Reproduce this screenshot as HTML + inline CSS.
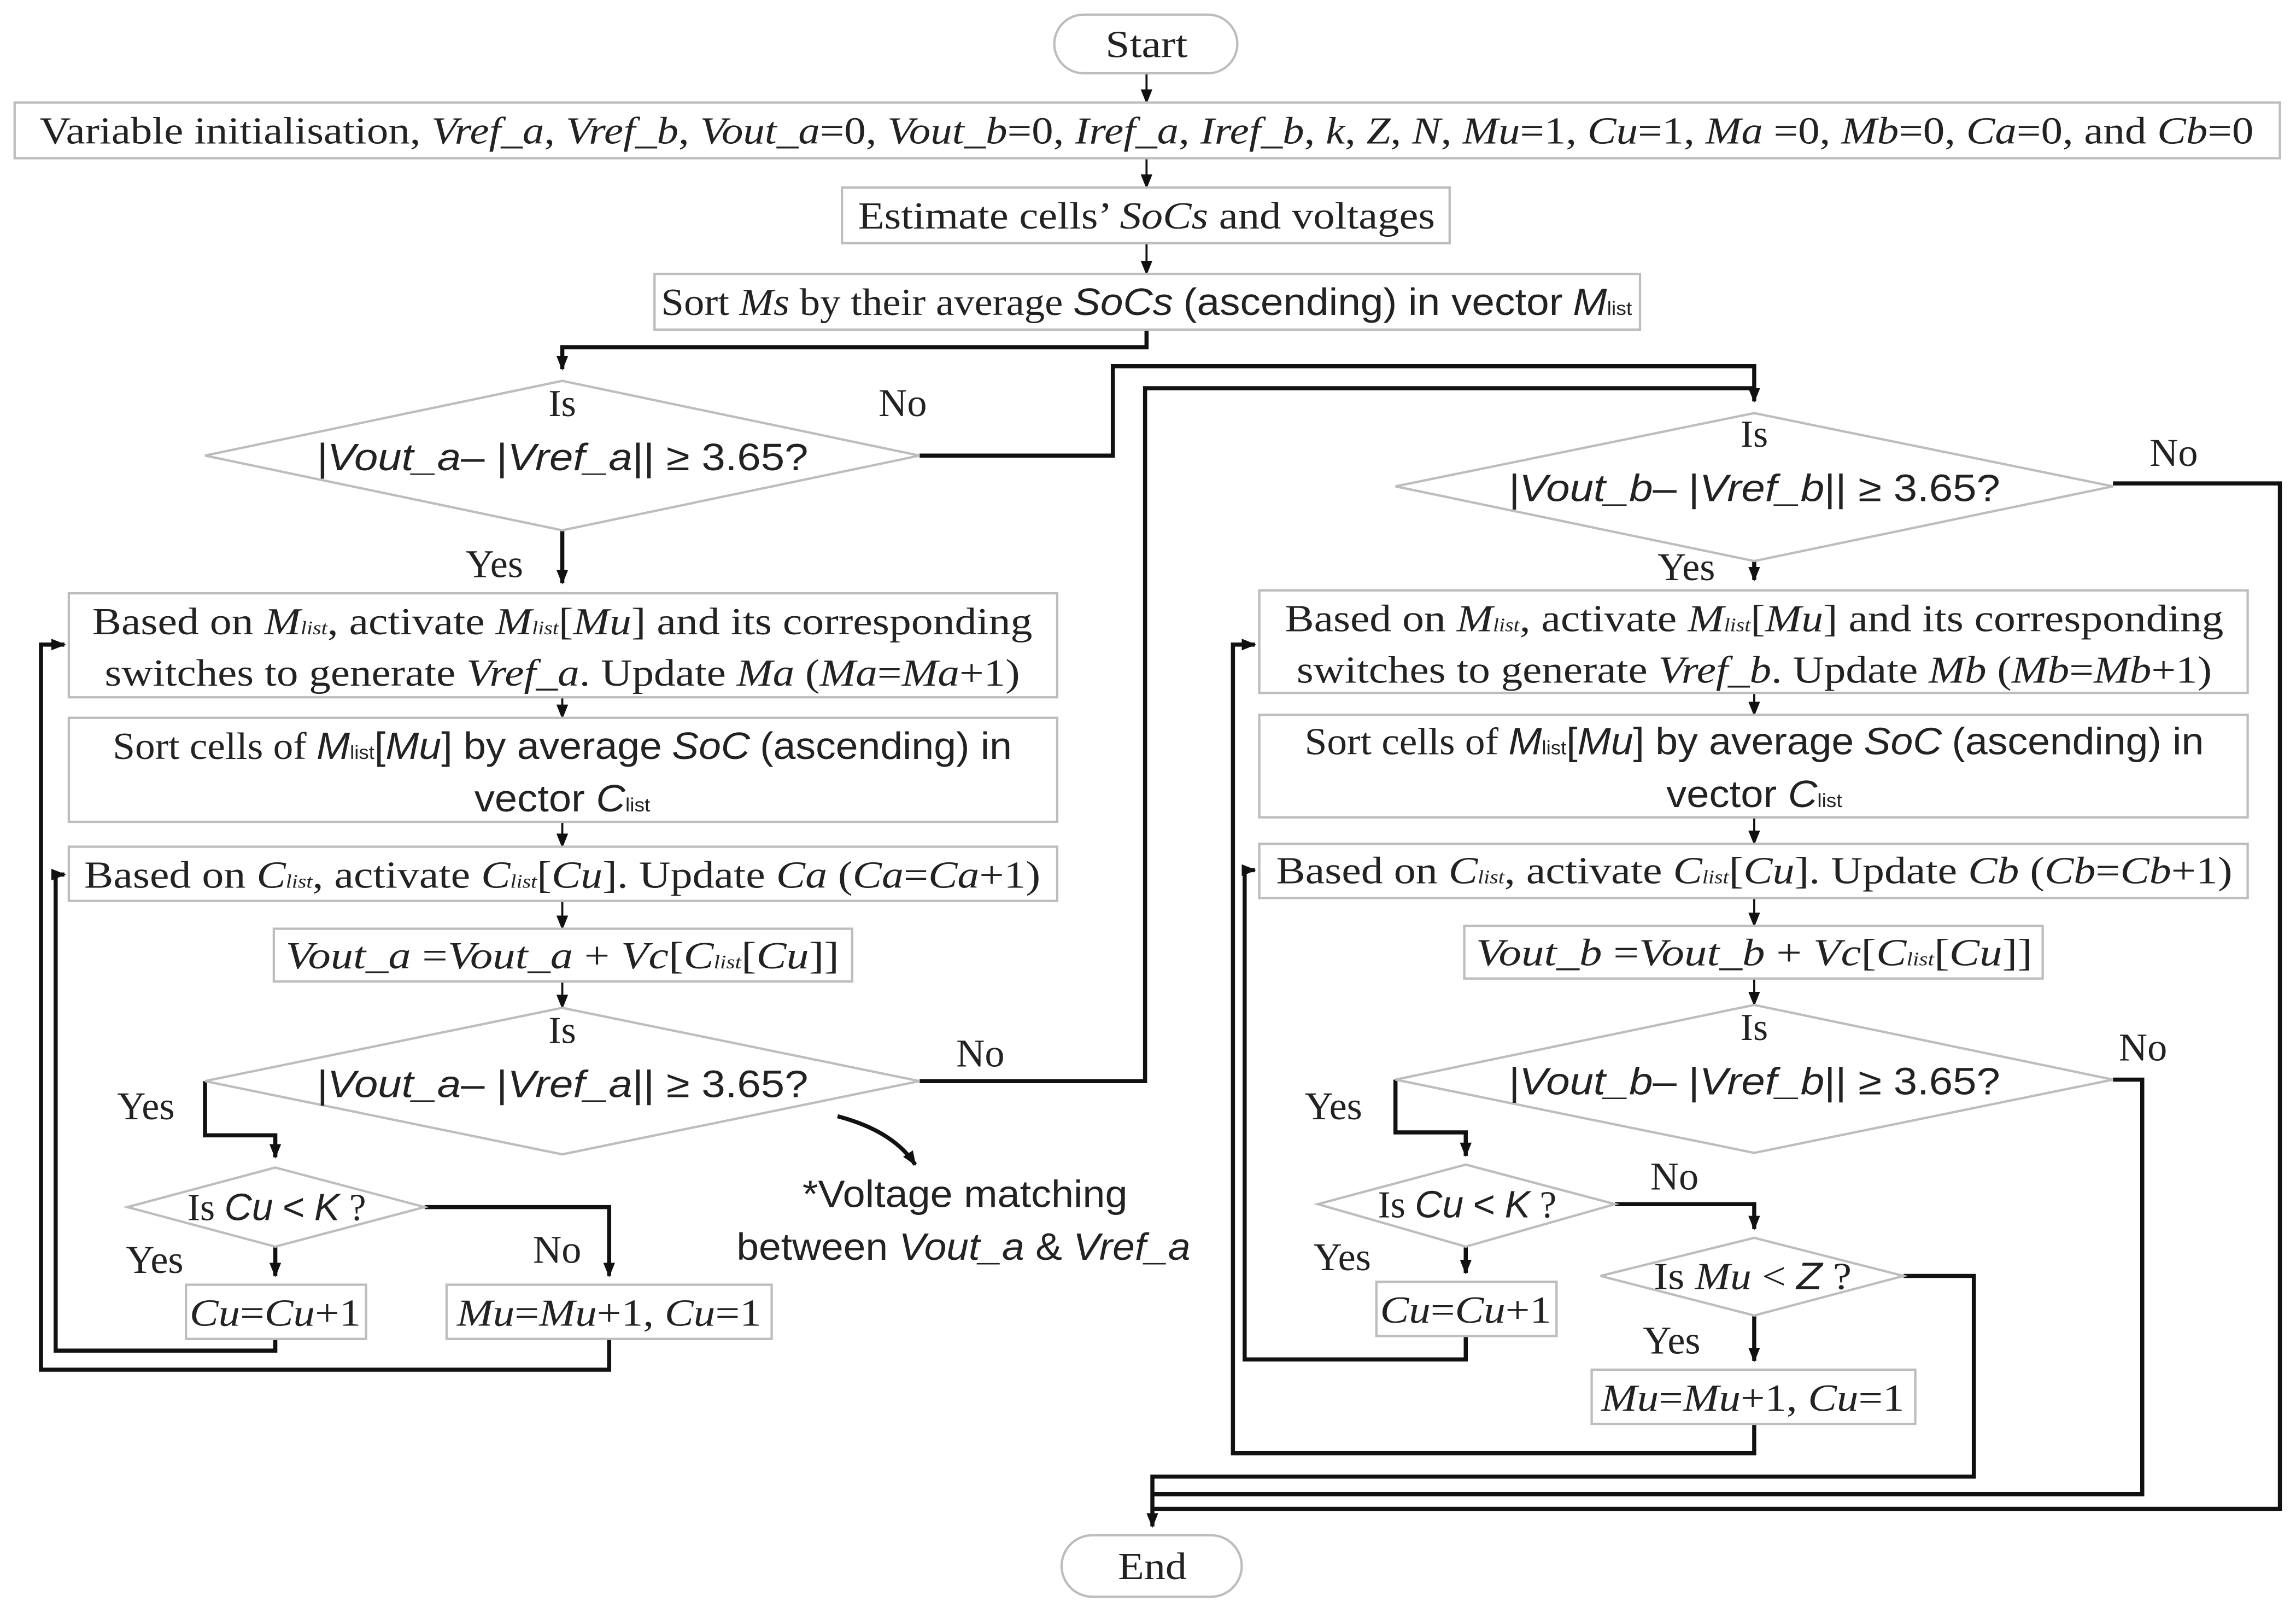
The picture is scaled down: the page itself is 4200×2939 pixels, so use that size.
<!DOCTYPE html>
<html><head><meta charset="utf-8"><style>
html,body{margin:0;padding:0;background:#fff}
svg{display:block}
text{font-family:"Liberation Serif",serif;font-size:26px;fill:#222}
.s{font-family:"Liberation Sans",sans-serif}
.i{font-style:italic}
.sub{font-size:13px}
.b{fill:#fff;stroke:#bdbdbd;stroke-width:1.6}
.c{fill:none;stroke:#111;stroke-width:2.8}
.t{fill:none;stroke:#111;stroke-width:1.4}
</style></head><body>
<svg width="4200" height="2939" viewBox="0 0 1568 1097" preserveAspectRatio="none" xmlns="http://www.w3.org/2000/svg">
<defs>
<marker id="ad" viewBox="0 0 10 10" markerWidth="10" markerHeight="10" refX="9" refY="5" orient="auto" markerUnits="userSpaceOnUse"><path d="M0,1 L10,5 L0,9 z" fill="#111"/></marker>
</defs>

<g class="t" marker-end="url(#ad)">
<line x1="783" y1="50" x2="783" y2="70"/>
<line x1="783" y1="108" x2="783" y2="128"/>
<line x1="783" y1="166" x2="783" y2="187"/>
<line x1="384" y1="476" x2="384" y2="490"/>
<line x1="384" y1="561" x2="384" y2="578"/>
<line x1="384" y1="615" x2="384" y2="634"/>
<line x1="384" y1="670" x2="384" y2="688"/>
<line x1="1198" y1="473" x2="1198" y2="488"/>
<line x1="1198" y1="558" x2="1198" y2="576"/>
<line x1="1198" y1="613" x2="1198" y2="632"/>
<line x1="1198" y1="668" x2="1198" y2="686"/>
</g>

<g class="c">
<polyline points="783,225 783,237 384,237 384,252" marker-end="url(#ad)"/>
<polyline points="628,311 760,311 760,250 1198,250 1198,274" marker-end="url(#ad)"/>
<polyline points="628,738 782,738 782,265 1198,265"/>
<polyline points="1443,330 1557,330 1557,1030 787,1030"/>
<polyline points="384,362 384,398" marker-end="url(#ad)"/>
<polyline points="1198,383 1198,396" marker-end="url(#ad)"/>
<polyline points="140,738 140,775 188,775 188,790" marker-end="url(#ad)"/>
<polyline points="290,824 416,824 416,871" marker-end="url(#ad)"/>
<polyline points="188,851 188,871" marker-end="url(#ad)"/>
<polyline points="188,914 188,922 38,922 38,597 44,597" marker-end="url(#ad)"/>
<polyline points="416,914 416,935 28,935 28,440 44,440" marker-end="url(#ad)"/>
<polyline points="1443,737 1463,737 1463,1020 787,1020"/>
<polyline points="953,737 953,773 1001,773 1001,789" marker-end="url(#ad)"/>
<polyline points="1103,822 1198,822 1198,839" marker-end="url(#ad)"/>
<polyline points="1001,851 1001,869" marker-end="url(#ad)"/>
<polyline points="1198,898 1198,929" marker-end="url(#ad)"/>
<polyline points="1001,912 1001,928 850,928 850,594 857,594" marker-end="url(#ad)"/>
<polyline points="1198,972 1198,992 842,992 842,440 857,440" marker-end="url(#ad)"/>
<polyline points="1300,871 1348,871 1348,1008 787,1008 787,1042" marker-end="url(#ad)"/>
<path d="M572,762 Q610,772 625,795" marker-end="url(#ad)"/>
</g>

<rect class="b" x="720" y="10" width="125" height="40" rx="20"/>
<rect class="b" x="725" y="1048" width="123" height="42" rx="21"/>
<rect class="b" x="10" y="70" width="1547" height="38"/>
<rect class="b" x="575" y="128" width="415" height="38"/>
<rect class="b" x="447" y="187" width="673" height="38"/>
<polygon class="b" points="140,311 384,260 628,311 384,362"/>
<polygon class="b" points="953,332 1198,282 1443,332 1198,383"/>
<rect class="b" x="47" y="405" width="675" height="71"/>
<rect class="b" x="47" y="490" width="675" height="71"/>
<rect class="b" x="47" y="578" width="675" height="37"/>
<rect class="b" x="187" y="634" width="395" height="36"/>
<polygon class="b" points="140,738 384,688 628,738 384,788"/>
<polygon class="b" points="87,824 188,797 290,824 188,851"/>
<rect class="b" x="127" y="877" width="123" height="37"/>
<rect class="b" x="305" y="877" width="222" height="37"/>
<rect class="b" x="860" y="403" width="675" height="70"/>
<rect class="b" x="860" y="488" width="675" height="70"/>
<rect class="b" x="860" y="576" width="675" height="37"/>
<rect class="b" x="1000" y="632" width="395" height="36"/>
<polygon class="b" points="953,737 1198,686 1443,737 1198,787"/>
<polygon class="b" points="900,822 1001,795 1103,822 1001,851"/>
<polygon class="b" points="1093,871 1198,845 1300,871 1198,898"/>
<rect class="b" x="940" y="875" width="123" height="37"/>
<rect class="b" x="1087" y="935" width="221" height="37"/>

<g text-anchor="middle">
<text x="783" y="39" textLength="56" lengthAdjust="spacingAndGlyphs">Start</text>
<text x="787" y="1078" textLength="47" lengthAdjust="spacingAndGlyphs">End</text>
<text x="783" y="98" textLength="1512" lengthAdjust="spacingAndGlyphs">Variable initialisation, <tspan class="i">Vref_a</tspan>, <tspan class="i">Vref_b</tspan>, <tspan class="i">Vout_a</tspan>=0, <tspan class="i">Vout_b</tspan>=0, <tspan class="i">Iref_a</tspan>, <tspan class="i">Iref_b</tspan>, <tspan class="i">k</tspan>, <tspan class="i">Z</tspan>, <tspan class="i">N</tspan>, <tspan class="i">Mu</tspan>=1, <tspan class="i">Cu</tspan>=1, <tspan class="i">Ma</tspan> =0, <tspan class="i">Mb</tspan>=0, <tspan class="i">Ca</tspan>=0, and <tspan class="i">Cb</tspan>=0</text>
<text x="783" y="156" textLength="394" lengthAdjust="spacingAndGlyphs">Estimate cells’ <tspan class="i">SoCs</tspan> and voltages</text>
<text x="783" y="215" textLength="663" lengthAdjust="spacingAndGlyphs">Sort <tspan class="i">Ms</tspan> by their average <tspan class="s i">SoCs</tspan> <tspan class="s">(ascending) in vector</tspan> <tspan class="s i">M</tspan><tspan class="s sub">list</tspan></text>

<text x="384" y="284">Is</text>
<text x="384" y="321" textLength="336" lengthAdjust="spacingAndGlyphs"><tspan class="s i">|Vout_a</tspan><tspan class="s">– |</tspan><tspan class="s i">Vref_a</tspan><tspan class="s">||  ≥ 3.65?</tspan></text>
<text x="1198" y="305">Is</text>
<text x="1198" y="342" textLength="336" lengthAdjust="spacingAndGlyphs"><tspan class="s i">|Vout_b</tspan><tspan class="s">– |</tspan><tspan class="s i">Vref_b</tspan><tspan class="s">||  ≥ 3.65?</tspan></text>

<text x="384" y="433" textLength="642" lengthAdjust="spacingAndGlyphs">Based on <tspan class="i">M</tspan><tspan class="sub i">list</tspan>, activate <tspan class="i">M</tspan><tspan class="sub i">list</tspan>[<tspan class="i">Mu</tspan>] and its corresponding</text>
<text x="384" y="468" textLength="625" lengthAdjust="spacingAndGlyphs">switches to generate <tspan class="i">Vref_a</tspan>. Update <tspan class="i">Ma</tspan> (<tspan class="i">Ma</tspan>=<tspan class="i">Ma</tspan>+1)</text>
<text x="384" y="518" textLength="614" lengthAdjust="spacingAndGlyphs">Sort cells of <tspan class="s i">M</tspan><tspan class="s sub">list</tspan><tspan class="s">[</tspan><tspan class="s i">Mu</tspan><tspan class="s">] by average</tspan> <tspan class="s i">SoC</tspan> <tspan class="s">(ascending) in</tspan></text>
<text x="384" y="554" class="s" textLength="120" lengthAdjust="spacingAndGlyphs">vector <tspan class="i">C</tspan><tspan class="sub">list</tspan></text>
<text x="384" y="606" textLength="653" lengthAdjust="spacingAndGlyphs">Based on <tspan class="i">C</tspan><tspan class="sub i">list</tspan>, activate <tspan class="i">C</tspan><tspan class="sub i">list</tspan>[<tspan class="i">Cu</tspan>]. Update <tspan class="i">Ca</tspan> (<tspan class="i">Ca</tspan>=<tspan class="i">Ca</tspan>+1)</text>
<text x="384" y="661" textLength="378" lengthAdjust="spacingAndGlyphs"><tspan class="i">Vout_a</tspan> =<tspan class="i">Vout_a</tspan> + <tspan class="i">Vc</tspan>[<tspan class="i">C</tspan><tspan class="sub i">list</tspan>[<tspan class="i">Cu</tspan>]]</text>
<text x="384" y="712">Is</text>
<text x="384" y="749" textLength="336" lengthAdjust="spacingAndGlyphs"><tspan class="s i">|Vout_a</tspan><tspan class="s">– |</tspan><tspan class="s i">Vref_a</tspan><tspan class="s">||  ≥ 3.65?</tspan></text>
<text x="189" y="833" textLength="122" lengthAdjust="spacingAndGlyphs">Is <tspan class="s i">Cu</tspan> <tspan class="s">&lt;</tspan> <tspan class="s i">K</tspan> ?</text>
<text x="188" y="905" textLength="117" lengthAdjust="spacingAndGlyphs"><tspan class="i">Cu</tspan>=<tspan class="i">Cu</tspan>+1</text>
<text x="416" y="905" textLength="208" lengthAdjust="spacingAndGlyphs"><tspan class="i">Mu</tspan>=<tspan class="i">Mu</tspan>+1, <tspan class="i">Cu</tspan>=1</text>
<text x="659" y="824" class="s" textLength="222" lengthAdjust="spacingAndGlyphs">*Voltage matching</text>
<text x="658" y="860" class="s" textLength="310" lengthAdjust="spacingAndGlyphs">between <tspan class="i">Vout_a</tspan> &amp; <tspan class="i">Vref_a</tspan></text>

<text x="1198" y="431" textLength="641" lengthAdjust="spacingAndGlyphs">Based on <tspan class="i">M</tspan><tspan class="sub i">list</tspan>, activate <tspan class="i">M</tspan><tspan class="sub i">list</tspan>[<tspan class="i">Mu</tspan>] and its corresponding</text>
<text x="1198" y="466" textLength="625" lengthAdjust="spacingAndGlyphs">switches to generate <tspan class="i">Vref_b</tspan>. Update <tspan class="i">Mb</tspan> (<tspan class="i">Mb</tspan>=<tspan class="i">Mb</tspan>+1)</text>
<text x="1198" y="515" textLength="614" lengthAdjust="spacingAndGlyphs">Sort cells of <tspan class="s i">M</tspan><tspan class="s sub">list</tspan><tspan class="s">[</tspan><tspan class="s i">Mu</tspan><tspan class="s">] by average</tspan> <tspan class="s i">SoC</tspan> <tspan class="s">(ascending) in</tspan></text>
<text x="1198" y="551" class="s" textLength="120" lengthAdjust="spacingAndGlyphs">vector <tspan class="i">C</tspan><tspan class="sub">list</tspan></text>
<text x="1198" y="603" textLength="653" lengthAdjust="spacingAndGlyphs">Based on <tspan class="i">C</tspan><tspan class="sub i">list</tspan>, activate <tspan class="i">C</tspan><tspan class="sub i">list</tspan>[<tspan class="i">Cu</tspan>]. Update <tspan class="i">Cb</tspan> (<tspan class="i">Cb</tspan>=<tspan class="i">Cb</tspan>+1)</text>
<text x="1198" y="659" textLength="380" lengthAdjust="spacingAndGlyphs"><tspan class="i">Vout_b</tspan> =<tspan class="i">Vout_b</tspan> + <tspan class="i">Vc</tspan>[<tspan class="i">C</tspan><tspan class="sub i">list</tspan>[<tspan class="i">Cu</tspan>]]</text>
<text x="1198" y="710">Is</text>
<text x="1198" y="747" textLength="336" lengthAdjust="spacingAndGlyphs"><tspan class="s i">|Vout_b</tspan><tspan class="s">– |</tspan><tspan class="s i">Vref_b</tspan><tspan class="s">||  ≥ 3.65?</tspan></text>
<text x="1002" y="831" textLength="122" lengthAdjust="spacingAndGlyphs">Is <tspan class="s i">Cu</tspan> <tspan class="s">&lt;</tspan> <tspan class="s i">K</tspan> ?</text>
<text x="1197" y="880" textLength="135" lengthAdjust="spacingAndGlyphs">Is <tspan class="i">Mu</tspan> &lt; <tspan class="s i">Z</tspan> ?</text>
<text x="1001" y="903" textLength="117" lengthAdjust="spacingAndGlyphs"><tspan class="i">Cu</tspan>=<tspan class="i">Cu</tspan>+1</text>
<text x="1197" y="963" textLength="207" lengthAdjust="spacingAndGlyphs"><tspan class="i">Mu</tspan>=<tspan class="i">Mu</tspan>+1, <tspan class="i">Cu</tspan>=1</text>
</g>
<g>
<text x="600" y="284" style="font-size:27px">No</text>
<text x="318" y="394" style="font-size:27px">Yes</text>
<text x="1468" y="318" style="font-size:27px">No</text>
<text x="1132" y="396" style="font-size:27px">Yes</text>
<text x="653" y="728" style="font-size:27px">No</text>
<text x="80" y="764" style="font-size:27px">Yes</text>
<text x="364" y="862" style="font-size:27px">No</text>
<text x="86" y="869" style="font-size:27px">Yes</text>
<text x="1447" y="724" style="font-size:27px">No</text>
<text x="891" y="764" style="font-size:27px">Yes</text>
<text x="1127" y="812" style="font-size:27px">No</text>
<text x="897" y="867" style="font-size:27px">Yes</text>
<text x="1122" y="924" style="font-size:27px">Yes</text>
</g>
</svg>
</body></html>
